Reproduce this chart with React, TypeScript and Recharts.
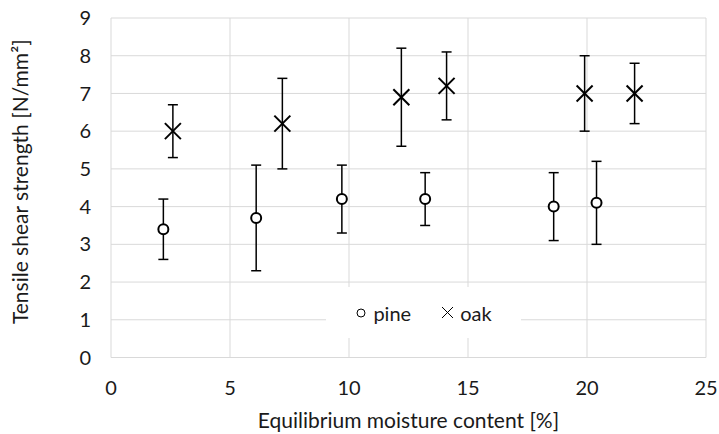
import React from "react";
import {
    ScatterChart,
    Scatter,
    XAxis,
    YAxis,
    CartesianGrid,
    ErrorBar,
    Legend
} from "recharts";

// moisture content [%], strength [N/mm2], error bar ends (min / max)
const pineX = [2.2, 6.1, 9.7, 13.2, 18.6, 20.4];
const pineY = [3.4, 3.7, 4.2, 4.2, 4.0, 4.1];
const pineMin = [2.6, 2.3, 3.3, 3.5, 3.1, 3.0];
const pineMax = [4.2, 5.1, 5.1, 4.9, 4.9, 5.2];

const oakX = [2.6, 7.2, 12.2, 14.1, 19.9, 22.0];
const oakY = [6.0, 6.2, 6.9, 7.2, 7.0, 7.0];
const oakMin = [5.3, 5.0, 5.6, 6.3, 6.0, 6.2];
const oakMax = [6.7, 7.4, 8.2, 8.1, 8.0, 7.8];

const xTicks = [0, 5, 10, 15, 20, 25];
const yTicks = [0, 1, 2, 3, 4, 5, 6, 7, 8, 9];

const FONT = "Lato, 'Open Sans', sans-serif";
const TEXT = "#1a1a1a";
const GRID = "#d9d9d9";

function buildRows(xs: number[], ys: number[], lo: number[], hi: number[]) {
    return xs.map((x, i) => ({
        x,
        y: ys[i],
        err: [+(ys[i] - lo[i]).toFixed(2), +(hi[i] - ys[i]).toFixed(2)]
    }));
}

const pineData = buildRows(pineX, pineY, pineMin, pineMax);
const oakData = buildRows(oakX, oakY, oakMin, oakMax);

const CircleMark = (props: any) => {
    const { cx, cy } = props;
    return <circle cx={cx} cy={cy} r={5} fill="#fff" stroke="#000" strokeWidth={2} />;
};

const CrossMark = (props: any) => {
    const { cx, cy } = props;
    const s = 8;
    return (
        <g stroke="#000" strokeWidth={2}>
            <line x1={cx - s} y1={cy - s} x2={cx + s} y2={cy + s} />
            <line x1={cx - s} y1={cy + s} x2={cx + s} y2={cy - s} />
        </g>
    );
};

function LegendBox() {
    return (
        <div
            style={{
                background: "#fff",
                width: 195,
                height: 51,
                display: "flex",
                alignItems: "center",
                justifyContent: "center",
                fontFamily: FONT,
                fontSize: 20,
                color: TEXT
            }}
        >
            <svg width={12} height={12} style={{ marginRight: 6 }}>
                <circle cx={6} cy={6} r={4} fill="none" stroke="#000" strokeWidth={1} />
            </svg>
            <span style={{ marginRight: 30 }}>pine</span>
            <svg width={13} height={13} style={{ marginRight: 6 }}>
                <line x1={1} y1={1} x2={12} y2={12} stroke="#000" strokeWidth={1} />
                <line x1={1} y1={12} x2={12} y2={1} stroke="#000" strokeWidth={1} />
            </svg>
            <span>oak</span>
        </div>
    );
}

const YTitle = (props: any) => {
    const vb = props.viewBox || { x: 0, y: 18, height: 340 };
    const cx = vb.x + 19;
    const cy = vb.y + vb.height / 2 - 6;
    return (
        <text
            x={cx}
            y={cy}
            transform={`rotate(-90 ${cx} ${cy})`}
            textAnchor="middle"
            dominantBaseline="central"
            fontFamily={FONT}
            fontSize={21}
            fill={TEXT}
        >
            Tensile shear strength [N/mm²]
        </text>
    );
};

export default function App() {
    return (
        <div style={{ position: "absolute", left: 0, top: 0, width: 719, height: 434, background: "#fff" }}>
            <ScatterChart width={719} height={434} margin={{ top: 18, right: 13, bottom: 0, left: 0 }}>
                <CartesianGrid stroke={GRID} strokeWidth={1} />
                <XAxis
                    type="number"
                    dataKey="x"
                    domain={[0, 25]}
                    ticks={xTicks}
                    height={76.5}
                    axisLine={false}
                    tickLine={false}
                    tickSize={0}
                    tickMargin={23}
                    tick={{ fontFamily: FONT, fontSize: 20, fill: TEXT }}
                    label={{
                        value: "Equilibrium moisture content [%]",
                        position: "insideBottom",
                        offset: 6,
                        fontFamily: FONT,
                        fontSize: 21,
                        fill: TEXT
                    }}
                />
                <YAxis
                    type="number"
                    dataKey="y"
                    domain={[0, 9]}
                    ticks={yTicks}
                    width={111}
                    axisLine={false}
                    tickLine={false}
                    tickSize={0}
                    tickMargin={20}
                    tick={{ fontFamily: FONT, fontSize: 20, fill: TEXT }}
                    label={{ content: YTitle }}
                />
                <Legend
                    layout="vertical"
                    align="center"
                    verticalAlign="middle"
                    content={() => <LegendBox />}
                    wrapperStyle={{ position: "absolute", left: 326, top: 287, width: 195, height: 51 }}
                />
                <Scatter name="pine" data={pineData} shape={CircleMark} isAnimationActive={false}>
                    <ErrorBar dataKey="err" direction="y" width={5} stroke="#000" strokeWidth={1.5} />
                </Scatter>
                <Scatter name="oak" data={oakData} shape={CrossMark} isAnimationActive={false}>
                    <ErrorBar dataKey="err" direction="y" width={5} stroke="#000" strokeWidth={1.5} />
                </Scatter>
            </ScatterChart>
        </div>
    );
}
